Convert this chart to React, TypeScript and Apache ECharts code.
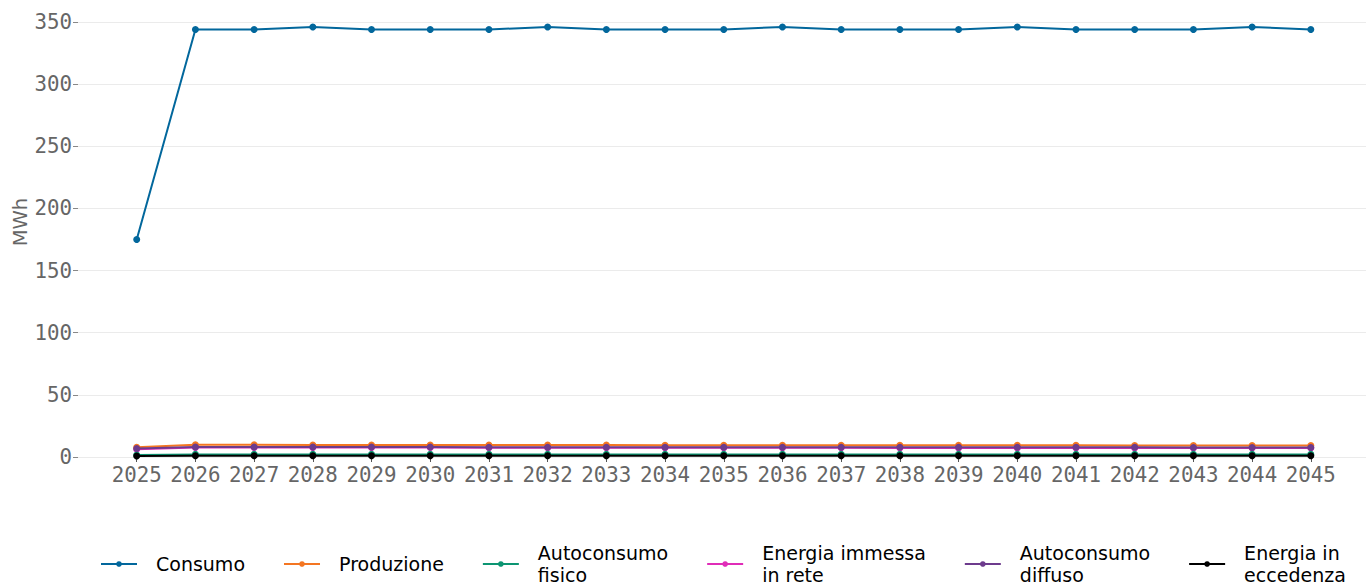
import React, { useEffect, useRef } from "react";
import * as echarts from "echarts";

const years = [2025, 2026, 2027, 2028, 2029, 2030, 2031, 2032, 2033, 2034, 2035, 2036, 2037, 2038, 2039, 2040, 2041, 2042, 2043, 2044, 2045];
const consumo = [175, 344, 344, 346, 344, 344, 344, 346, 344, 344, 344, 346, 344, 344, 344, 346, 344, 344, 344, 346, 344];
const produzione = [7.8, 9.8, 9.8, 9.7, 9.7, 9.7, 9.6, 9.6, 9.6, 9.5, 9.5, 9.5, 9.5, 9.4, 9.4, 9.4, 9.4, 9.3, 9.3, 9.3, 9.3];
const autoconsumoFisico = [1.6, 2.1, 2.1, 2.1, 2.1, 2.1, 2.1, 2.1, 2.1, 2.1, 2.1, 2.1, 2.1, 2.1, 2.1, 2.1, 2.1, 2.1, 2.1, 2.1, 2.1];
const energiaImmessa = [6.2, 7.7, 7.7, 7.6, 7.6, 7.6, 7.5, 7.5, 7.5, 7.4, 7.4, 7.4, 7.4, 7.3, 7.3, 7.3, 7.3, 7.2, 7.2, 7.2, 7.2];
const autoconsumoDiffuso = [6.9, 8.0, 8.0, 8.0, 8.0, 8.0, 7.9, 7.9, 7.9, 7.9, 7.9, 7.9, 7.8, 7.8, 7.8, 7.8, 7.8, 7.8, 7.7, 7.7, 7.7];
const energiaEccedenza = [0.8, 1.0, 1.0, 1.0, 1.0, 1.0, 1.0, 1.0, 1.0, 1.0, 1.0, 1.0, 1.0, 1.0, 1.0, 1.0, 1.0, 1.0, 1.0, 1.0, 1.0];
const yTicks = [0, 50, 100, 150, 200, 250, 300, 350];

const seriesDefs = [
  { name: "Consumo", label: "Consumo", color: "#02679c", data: consumo },
  { name: "Produzione", label: "Produzione", color: "#f47622", data: produzione },
  { name: "Autoconsumo fisico", label: "Autoconsumo\nfisico", color: "#0c9572", data: autoconsumoFisico },
  { name: "Energia immessa in rete", label: "Energia immessa\nin rete", color: "#e02cb8", data: energiaImmessa },
  { name: "Autoconsumo diffuso", label: "Autoconsumo\ndiffuso", color: "#6d3b8d", data: autoconsumoDiffuso },
  { name: "Energia in eccedenza", label: "Energia in\neccedenza", color: "#000000", data: energiaEccedenza },
];

export default function App() {
  const ref = useRef<HTMLDivElement>(null);
  useEffect(() => {
    if (!ref.current) return;
    const chart = echarts.init(ref.current, undefined, { renderer: "svg" });
    const labelMap: Record<string, string> = {};
    seriesDefs.forEach((s) => (labelMap[s.name] = s.label));
    chart.setOption({
      animation: false,
      backgroundColor: "#ffffff",
      grid: { left: 78, right: 0, top: 22, bottom: 128, containLabel: false },
      xAxis: {
        type: "value",
        min: 2024,
        max: 2045.94,
        interval: 1,
        axisLine: { show: false },
        splitLine: { show: false },
        axisTick: { show: true, length: 5, lineStyle: { color: "#555555", width: 1 }, customValues: years },
        axisLabel: {
          customValues: years,
          margin: 7,
          color: "#666666",
          fontFamily: "DejaVu Sans Mono",
          fontSize: 20.8,
          formatter: (v: number) => String(v),
        },
      },
      yAxis: {
        type: "value",
        min: 0,
        max: 350,
        interval: 50,
        axisLine: { show: false },
        axisTick: { show: true, length: 5, lineStyle: { color: "#888888" }, customValues: yTicks },
        axisLabel: {
          margin: 6,
          color: "#666666",
          fontFamily: "DejaVu Sans Mono",
          fontSize: 20.8,
        },
        splitLine: { show: true, lineStyle: { color: "#ebebeb", width: 1 } },
      },
      graphic: [
        {
          type: "text",
          x: 20,
          y: 222,
          rotation: Math.PI / 2,
          style: {
            text: "MWh",
            fill: "#666666",
            font: "19.5px 'DejaVu Sans'",
            align: "center",
            verticalAlign: "middle",
          },
        },
      ],
      legend: {
        left: 100,
        top: 542,
        padding: 0,
        itemGap: 38,
        itemWidth: 36,
        itemHeight: 7,
        formatter: (n: string) => labelMap[n] ?? n,
        textStyle: {
          fontFamily: "DejaVu Sans",
          fontSize: 19,
          lineHeight: 22,
          color: "#000000",
          padding: [0, 0, 0, 14],
        },
        data: seriesDefs.map((s) => s.name),
      },
      series: seriesDefs.map((s, i) => ({
        name: s.name,
        type: "line",
        data: s.data.map((v, j) => [years[j], v]),
        color: s.color,
        symbol: "circle",
        symbolSize: 7,
        lineStyle: { width: 2, color: s.color },
        itemStyle: { color: s.color },
        z: i === 3 ? 1 : 2 + i,
      })),
    });
    return () => chart.dispose();
  }, []);
  return (
    <div
      ref={ref}
      style={{ position: "fixed", left: 0, top: 0, width: 1366, height: 585 }}
    />
  );
}
